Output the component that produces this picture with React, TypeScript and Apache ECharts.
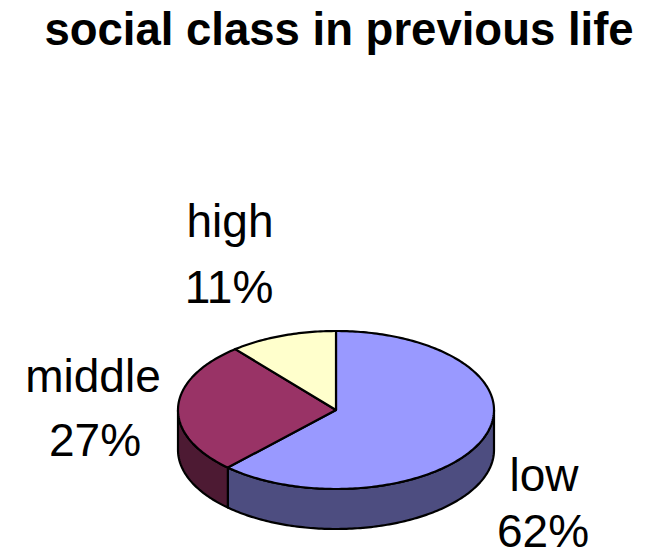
import React, { useEffect, useRef } from "react";
import * as echarts from "echarts";

const categories = ["low", "middle", "high"];
const values = [62, 27, 11];
const topColors = ["#9999FF", "#993366", "#FFFFCC"];
const sideColors = ["#4D4D80", "#4D1A33", "#80805F"];
const nameCenters: [number, number][] = [[544, 475], [93, 376], [230, 221]];
const valueCenters: [number, number][] = [[543, 531], [95, 440], [229, 287]];

const CX = 336, CY = 410, RX = 158, RY = 79, DEPTH = 40;
const total = values.reduce((a, b) => a + b, 0);

const pt = (deg: number, dy = 0): number[] => {
  const r = (deg * Math.PI) / 180;
  return [CX + RX * Math.sin(r), CY - RY * Math.cos(r) + dy];
};

const labelStyle = {
  fontFamily: "Liberation Sans",
  fontSize: 46,
  lineHeight: 34,
  fill: "#000",
  align: "center",
  verticalAlign: "middle",
};

function renderItem(params: any, api: any) {
  const i = params.dataIndex;
  let before = 0;
  for (let k = 0; k < i; k++) before += values[k];
  const start = (before / total) * 360;
  const end = start + (api.value(0) / total) * 360;
  const stroke = { stroke: "#000", lineWidth: 2.2, lineJoin: "round" };
  const children: any[] = [];

  const sStart = Math.max(start, 90);
  const sEnd = Math.min(end, 270);
  if (sEnd > sStart) {
    const pts: number[][] = [];
    for (let a = sStart; a < sEnd; a += 1) pts.push(pt(a));
    pts.push(pt(sEnd));
    for (let a = sEnd; a > sStart; a -= 1) pts.push(pt(a, DEPTH));
    pts.push(pt(sStart, DEPTH));
    children.push({ type: "polygon", shape: { points: pts }, style: { fill: sideColors[i], ...stroke } });
  }

  const top: number[][] = [[CX, CY]];
  for (let a = start; a < end; a += 1) top.push(pt(a));
  top.push(pt(end));
  children.push({ type: "polygon", shape: { points: top }, style: { fill: topColors[i], ...stroke } });

  children.push({
    type: "text", x: nameCenters[i][0], y: nameCenters[i][1],
    style: { ...labelStyle, text: categories[i] },
  });
  children.push({
    type: "text", x: valueCenters[i][0], y: valueCenters[i][1],
    style: { ...labelStyle, text: `${api.value(0)}%` },
  });
  return { type: "group", children };
}

export default function App() {
  const ref = useRef<HTMLDivElement>(null);
  useEffect(() => {
    document.body.style.margin = "0";
    const chart = echarts.init(ref.current!, null, { renderer: "svg" });
    chart.setOption({
      animation: false,
      backgroundColor: "#fff",
      title: {
        text: "social class in previous life",
        left: 334,
        top: 1,
        textAlign: "center",
        textStyle: { fontFamily: "Liberation Sans", fontWeight: "bold", fontSize: 45.5, color: "#000" },
      },
      series: [
        {
          type: "custom",
          coordinateSystem: "none",
          renderItem,
          data: values.map((v) => [v]),
        },
      ],
    });
    return () => chart.dispose();
  }, []);
  return <div ref={ref} style={{ width: 656, height: 557 }} />;
}
